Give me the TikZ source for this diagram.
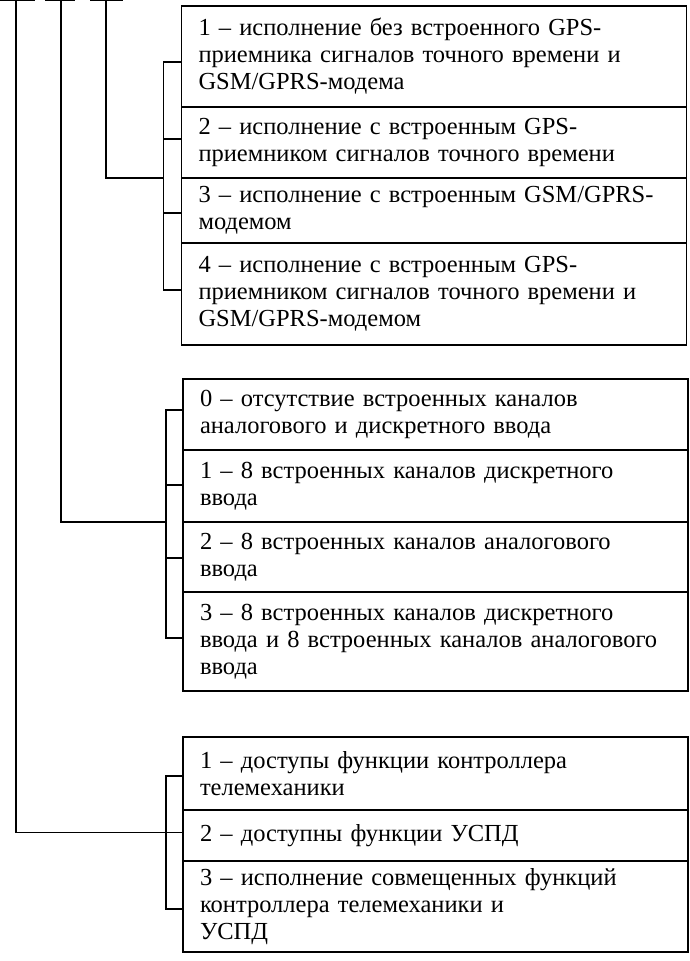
\documentclass[tikz,border=0pt]{standalone}
\usepackage{fontspec}
\setmainfont{Liberation Serif}
\usetikzlibrary{positioning}

\begin{document}
\begin{tikzpicture}[x=1pt,y=-1pt,line width=1.3pt,
		opt/.style={draw,anchor=north west,align=left,text width=471pt,inner xsep=17pt,inner ysep=0pt,outer sep=0pt,font=\fontsize{24.5}{27}\selectfont}]
		\useasboundingbox (0,0) rectangle (690,961);
		% code fields at the top
		\coordinate (t1) at (16,0.6);
		\coordinate (t2) at (61,0.6);
		\coordinate (t3) at (106,0.6);
		\draw ([xshift=-16pt]t1) -- ([xshift=19pt]t1);
		\draw ([xshift=-16pt]t2) -- ([xshift=14pt]t2);
		\draw ([xshift=-16pt]t3) -- ([xshift=17pt]t3);
		% first group
		\node[opt,minimum height=101pt] (a1) at (181.5,6) {1 -- исполнение без встроенного GPS-\\приемника сигналов точного времени и\\GSM/GPRS-модема};
		\node[opt,minimum height=71pt] (a2) at (a1.south west) {2 -- исполнение с встроенным GPS-\\приемником сигналов точного времени};
		\node[opt,minimum height=65pt] (a3) at (a2.south west) {3 -- исполнение с встроенным GSM/GPRS-\\модемом};
		\node[opt,minimum height=102pt] (a4) at (a3.south west) {4 -- исполнение с встроенным GPS-\\приемником сигналов точного времени и\\GSM/GPRS-модемом};
		% second group
		\node[opt,minimum height=71pt] (b1) at (183,379) {0 -- отсутствие встроенных каналов\\аналогового и дискретного ввода};
		\node[opt,minimum height=72pt] (b2) at (b1.south west) {1 -- 8 встроенных каналов дискретного\\ввода};
		\node[opt,minimum height=70pt] (b3) at (b2.south west) {2 -- 8 встроенных каналов аналогового\\ввода};
		\node[opt,minimum height=99pt] (b4) at (b3.south west) {3 -- 8 встроенных каналов дискретного\\ввода и 8 встроенных каналов аналогового\\ввода};
		% third group
		\node[opt,minimum height=73pt] (c1) at (183,737) {1 -- доступы функции контроллера\\телемеханики};
		\node[opt,minimum height=51pt] (c2) at (c1.south west) {2 -- доступны функции УСПД};
		\node[opt,minimum height=91pt] (c3) at (c2.south west) {3 -- исполнение совмещенных функций\\контроллера телемеханики и\\УСПД};
		% brackets
		\draw ([yshift=-5.5pt]a1.west) -- ++(-18,0) |- ([yshift=4pt]a4.west);
		\draw ([yshift=3.5pt]a2.west) -- ++(-18,0);
		\draw ([yshift=-2.5pt]a3.west) -- ++(-18,0);
		\draw ([yshift=4.5pt]b1.west) -- ++(-17,0) |- ([yshift=3.5pt]b4.west);
		\draw ([yshift=1pt]b2.west) -- ++(-17,0);
		\draw ([yshift=-1pt]b3.west) -- ++(-17,0);
		\draw ([yshift=-2.5pt]c1.west) -- ++(-17,0) |- ([yshift=-2.5pt]c3.west);
		% feeders
		\draw (t3) |- ([xshift=-18pt]a2.south west);
		\draw (t2) |- ([xshift=-17pt]b2.south west);
		\draw (t1) |- ([yshift=3pt]c2.west);
	\end{tikzpicture}
\end{document}
